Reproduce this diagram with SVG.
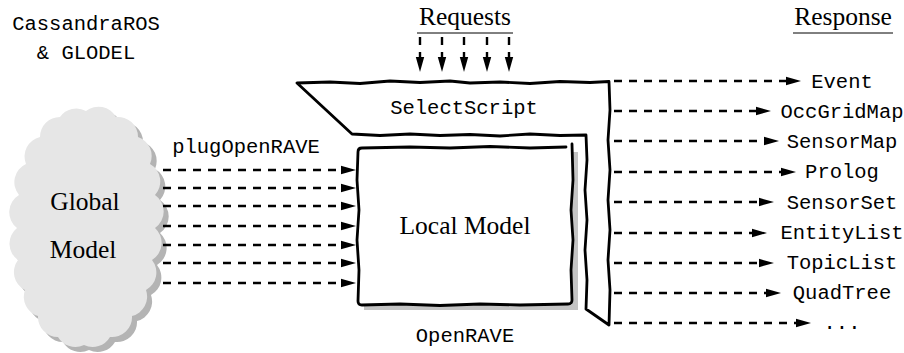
<svg xmlns="http://www.w3.org/2000/svg" width="904" height="353" viewBox="0 0 904 353">
  <style>
    .mono { font-family: "Liberation Mono", "DejaVu Sans Mono", monospace; font-size: 20.5px; fill: #000; }
    .serif { font-family: "Liberation Serif", "DejaVu Serif", serif; font-size: 25.5px; fill: #000; }
    .mid { text-anchor: middle; }
    .outline { fill: #fff; stroke: #000; stroke-width: 2.8; stroke-linejoin: round; stroke-linecap: round; }
    .dash { fill: none; stroke: #000; stroke-width: 2.4; stroke-dasharray: 8 7; }
    .rule { stroke: #000; stroke-width: 1; }
  </style>
  <defs>
    <marker id="head" markerUnits="userSpaceOnUse" markerWidth="15" markerHeight="10" viewBox="0 0 15 10" refX="1" refY="5" orient="auto">
      <path d="M0,0.8 L15,5 L0,9.2 Z" fill="#000"/>
    </marker>
    <path id="cloudShape" d="M86,111 A20,20 0 0 1 116,117 A20,20 0 0 1 138,137 A20,20 0 0 1 150,164 A20,20 0 0 1 155,195 A20,20 0 0 1 155,228 A20,20 0 0 1 152,260 A20,20 0 0 1 146,290 A20,20 0 0 1 132,316 A20,20 0 0 1 110,337 A20,20 0 0 1 84,345 A20,20 0 0 1 58,337 A20,20 0 0 1 38,316 A20,20 0 0 1 25,290 A20,20 0 0 1 18,260 A20,20 0 0 1 17,228 A20,20 0 0 1 19,195 A20,20 0 0 1 26,164 A20,20 0 0 1 40,137 A20,20 0 0 1 60,117 A20,20 0 0 1 86,111 Z"/>
  </defs>

  <!-- titles -->
  <g id="source-label">
    <text class="mono mid" x="86" y="30">CassandraROS</text>
    <text class="mono mid" x="86" y="59">&amp; GLODEL</text>
  </g>
  <g id="requests-label">
    <text class="serif mid" x="465" y="25">Requests</text>
    <line class="rule" x1="417" y1="33" x2="513" y2="33"/>
  </g>
  <g id="response-label">
    <text class="serif mid" x="843" y="25">Response</text>
    <line class="rule" x1="793" y1="33" x2="893" y2="33"/>
  </g>

  <!-- global model cloud -->
  <g id="global-model">
    <use href="#cloudShape" transform="translate(5,5)" fill="#b4b4b4"/>
    <use href="#cloudShape" fill="#e6e6e6"/>
    <text class="serif mid" x="85" y="210">Global</text>
    <text class="serif mid" x="83" y="258">Model</text>
  </g>

  <!-- SelectScript frame -->
  <g id="selectscript">
    <path class="outline" d="M297,83 L330,82 L360,83.5 L390,81 L420,82.5 L450,81 L470,83 L500,82 L530,83.5 L560,81.5 L590,82.5 L609,81.5 L610,110 L608,140 L610,170 L608,200 L610,230 L608,260 L610,290 L609,325 L586,309 L587,280 L585,250 L587,220 L585,190 L587,160 L586,135 L560,135.5 L530,134 L500,136 L470,134.5 L440,135.5 L410,134 L380,135.5 L352,134 Z"/>
    <text class="mono mid" x="464" y="114">SelectScript</text>
  </g>

  <!-- local model box -->
  <g id="local-model">
    <rect x="364" y="152" width="214" height="158" fill="#c4c4c4"/>
    <path d="M362,148 L400,147 L440,148.5 L480,147 L520,148 L566,147 L572,148 L572,305 L358,305 L358,148 Z" fill="#fff"/>
    <path class="outline" fill="none" d="M566,147 L530,148 L490,146.5 L450,148 L410,147 L362,148 Q358,148 358,152 L357,180 L359,210 L357,240 L359,270 L358,301 Q358,305 362,305 L400,304 L440,305.5 L480,304 L520,305 L568,304 Q572,304 572,300 L571,270 L573,240 L571,210 L573,180 L572,144" style="fill:none"/>
    <text class="serif mid" x="465" y="234">Local Model</text>
  </g>

  <g id="openrave-label">
    <text class="mono mid" x="465" y="342">OpenRAVE</text>
  </g>

  <g id="plug-label">
    <text class="mono mid" x="246" y="153">plugOpenRAVE</text>
  </g>

  <!-- response labels -->
  <g id="responses">
    <text class="mono mid" x="842" y="88">Event</text>
    <text class="mono mid" x="842" y="118">OccGridMap</text>
    <text class="mono mid" x="842" y="148">SensorMap</text>
    <text class="mono mid" x="842" y="178">Prolog</text>
    <text class="mono mid" x="842" y="209">SensorSet</text>
    <text class="mono mid" x="842" y="239">EntityList</text>
    <text class="mono mid" x="842" y="269">TopicList</text>
    <text class="mono mid" x="842" y="299">QuadTree</text>
    <text class="mono mid" x="842" y="329">...</text>
  </g>

  <!-- connectors -->
  <g id="connectors" marker-end="url(#head)">
    <!-- requests into SelectScript -->
    <line class="dash" x1="420" y1="37" x2="420" y2="58" marker-end="url(#head)"/>
    <line class="dash" x1="442" y1="37" x2="442" y2="58" marker-end="url(#head)"/>
    <line class="dash" x1="464" y1="37" x2="464" y2="58" marker-end="url(#head)"/>
    <line class="dash" x1="487" y1="37" x2="487" y2="58" marker-end="url(#head)"/>
    <line class="dash" x1="509" y1="37" x2="509" y2="58" marker-end="url(#head)"/>

    <!-- global model into local model -->
    <line class="dash" x1="163" y1="170" x2="342" y2="170" marker-end="url(#head)"/>
    <line class="dash" x1="163" y1="188" x2="342" y2="188" marker-end="url(#head)"/>
    <line class="dash" x1="163" y1="206" x2="342" y2="206" marker-end="url(#head)"/>
    <line class="dash" x1="163" y1="226" x2="342" y2="226" marker-end="url(#head)"/>
    <line class="dash" x1="163" y1="245" x2="342" y2="245" marker-end="url(#head)"/>
    <line class="dash" x1="163" y1="263" x2="342" y2="263" marker-end="url(#head)"/>
    <line class="dash" x1="163" y1="283" x2="342" y2="283" marker-end="url(#head)"/>

    <!-- responses out of SelectScript -->
    <line class="dash" x1="614" y1="81" x2="787" y2="81" marker-end="url(#head)"/>
    <line class="dash" x1="614" y1="111" x2="757" y2="111" marker-end="url(#head)"/>
    <line class="dash" x1="614" y1="141" x2="765" y2="141" marker-end="url(#head)"/>
    <line class="dash" x1="614" y1="172" x2="782" y2="172" marker-end="url(#head)"/>
    <line class="dash" x1="614" y1="202" x2="760" y2="202" marker-end="url(#head)"/>
    <line class="dash" x1="614" y1="233" x2="753" y2="233" marker-end="url(#head)"/>
    <line class="dash" x1="614" y1="263" x2="760" y2="263" marker-end="url(#head)"/>
    <line class="dash" x1="614" y1="293" x2="767" y2="293" marker-end="url(#head)"/>
    <line class="dash" x1="614" y1="323" x2="797" y2="323" marker-end="url(#head)"/>
  </g>
</svg>
